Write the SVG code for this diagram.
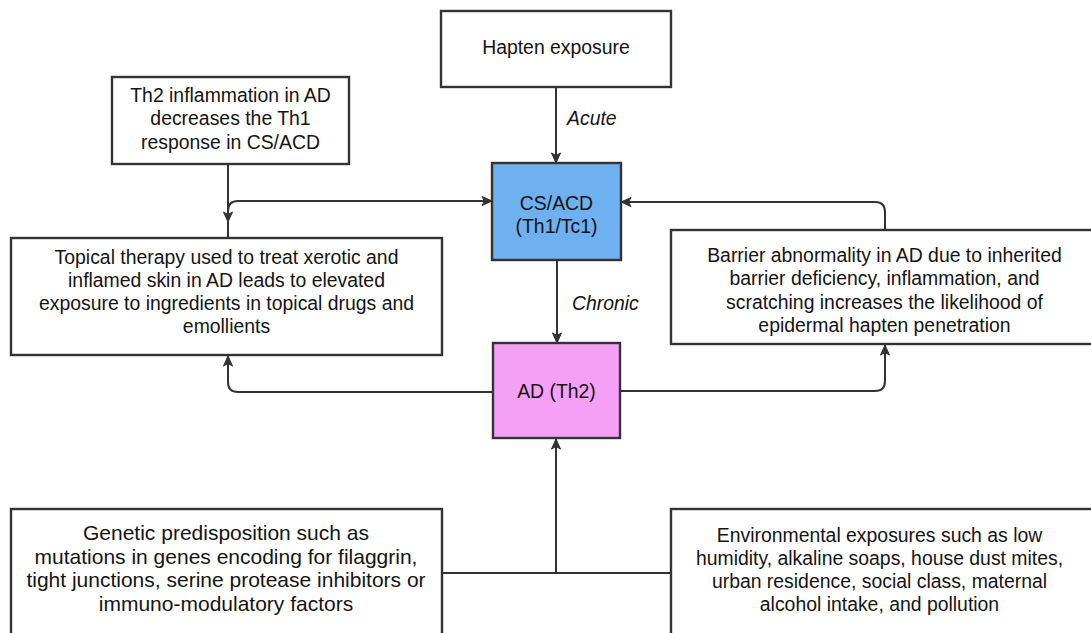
<svg xmlns="http://www.w3.org/2000/svg" width="1091" height="633" viewBox="0 0 1091 633">
  <style>
    .box { fill: #ffffff; stroke: #333333; stroke-width: 2.4; }
    .cs { fill: #6eb0f0; stroke: #333333; stroke-width: 2.4; }
    .ad { fill: #f4a0f6; stroke: #333333; stroke-width: 2.4; }
    .lbl { font-family: "Liberation Sans", Arial, sans-serif; font-size: 19.4px; fill: #141414; text-anchor: middle; }
    .big { font-size: 21px; }
    .edge { font-family: "Liberation Sans", Arial, sans-serif; font-size: 19.4px; font-style: italic; fill: #141414; }
    .wire { fill: none; stroke: #333333; stroke-width: 2; marker-end: url(#arrow); }
    .plain { fill: none; stroke: #333333; stroke-width: 2; }
  </style>
  <defs>
    <marker id="arrow" markerUnits="userSpaceOnUse" markerWidth="12" markerHeight="12" viewBox="0 0 12 12" refX="11" refY="6" orient="auto">
      <path d="M1,1.5 L11,6 L1,10.5 L3.5,6 Z" fill="#333333" stroke="#333333" stroke-width="1"/>
    </marker>
  </defs>
  <rect width="1091" height="633" fill="#ffffff"/>

  <!-- connectors -->
  <g id="connectors">
    <path class="wire" d="M556,87 L556,163"/>
    <path class="wire" d="M557,260 L557,343"/>
    <path class="wire" d="M228,164 L228,222"/>
    <path class="wire" d="M228,237 L228,211 Q228,201 238,201 L492,201"/>
    <path class="wire" d="M885,230 L885,212 Q885,202 875,202 L621,202"/>
    <path class="wire" d="M620,391 L875,391 Q885,391 885,381 L885,345"/>
    <path class="wire" d="M493,392 L238,392 Q228,392 228,382 L228,356"/>
    <path class="plain" d="M442,573 L671,573"/>
    <path class="wire" d="M556,573 L556,439"/>
    <text class="edge" x="567" y="125">Acute</text>
    <text class="edge" x="572" y="310">Chronic</text>
  </g>

  <g id="hapten">
    <rect class="box" x="441" y="11" width="230" height="76"/>
    <text class="lbl" x="556" y="54">Hapten exposure</text>
  </g>

  <g id="th2-inflammation">
    <rect class="box" x="112" y="77" width="237" height="87"/>
    <text class="lbl" x="230.5" y="102">Th2 inflammation in AD</text>
    <text class="lbl" x="230.5" y="125">decreases the Th1</text>
    <text class="lbl" x="230.5" y="149">response in CS/ACD</text>
  </g>

  <g id="cs-acd">
    <rect class="cs" x="492" y="163" width="129" height="97"/>
    <text class="lbl" x="556.5" y="210">CS/ACD</text>
    <text class="lbl" x="556.5" y="233">(Th1/Tc1)</text>
  </g>

  <g id="topical-therapy">
    <rect class="box" x="11" y="238" width="431" height="117"/>
    <text class="lbl" x="226.5" y="264">Topical therapy used to treat xerotic and</text>
    <text class="lbl" x="226.5" y="287">inflamed skin in AD leads to elevated</text>
    <text class="lbl" x="226.5" y="310">exposure to ingredients in topical drugs and</text>
    <text class="lbl" x="226.5" y="333">emollients</text>
  </g>

  <g id="barrier">
    <rect class="box" x="671" y="230" width="430" height="114"/>
    <text class="lbl" x="884.5" y="262">Barrier abnormality in AD due to inherited</text>
    <text class="lbl" x="884.5" y="285">barrier deficiency, inflammation, and</text>
    <text class="lbl" x="884.5" y="309">scratching increases the likelihood of</text>
    <text class="lbl" x="884.5" y="332">epidermal hapten penetration</text>
  </g>

  <g id="ad">
    <rect class="ad" x="493" y="343" width="127" height="95"/>
    <text class="lbl" x="556.5" y="398">AD (Th2)</text>
  </g>

  <g id="genetic">
    <rect class="box" x="11" y="509" width="431" height="150"/>
    <text class="lbl big" x="226" y="540">Genetic predisposition such as</text>
    <text class="lbl big" x="226" y="564">mutations in genes encoding for filaggrin,</text>
    <text class="lbl big" x="226" y="587">tight junctions, serine protease inhibitors or</text>
    <text class="lbl big" x="226" y="611">immuno-modulatory factors</text>
  </g>

  <g id="environmental">
    <rect class="box" x="671" y="509" width="430" height="150"/>
    <text class="lbl" x="879.5" y="542">Environmental exposures such as low</text>
    <text class="lbl" x="879.5" y="565">humidity, alkaline soaps, house dust mites,</text>
    <text class="lbl" x="879.5" y="588">urban residence, social class, maternal</text>
    <text class="lbl" x="879.5" y="611">alcohol intake, and pollution</text>
  </g>
</svg>
